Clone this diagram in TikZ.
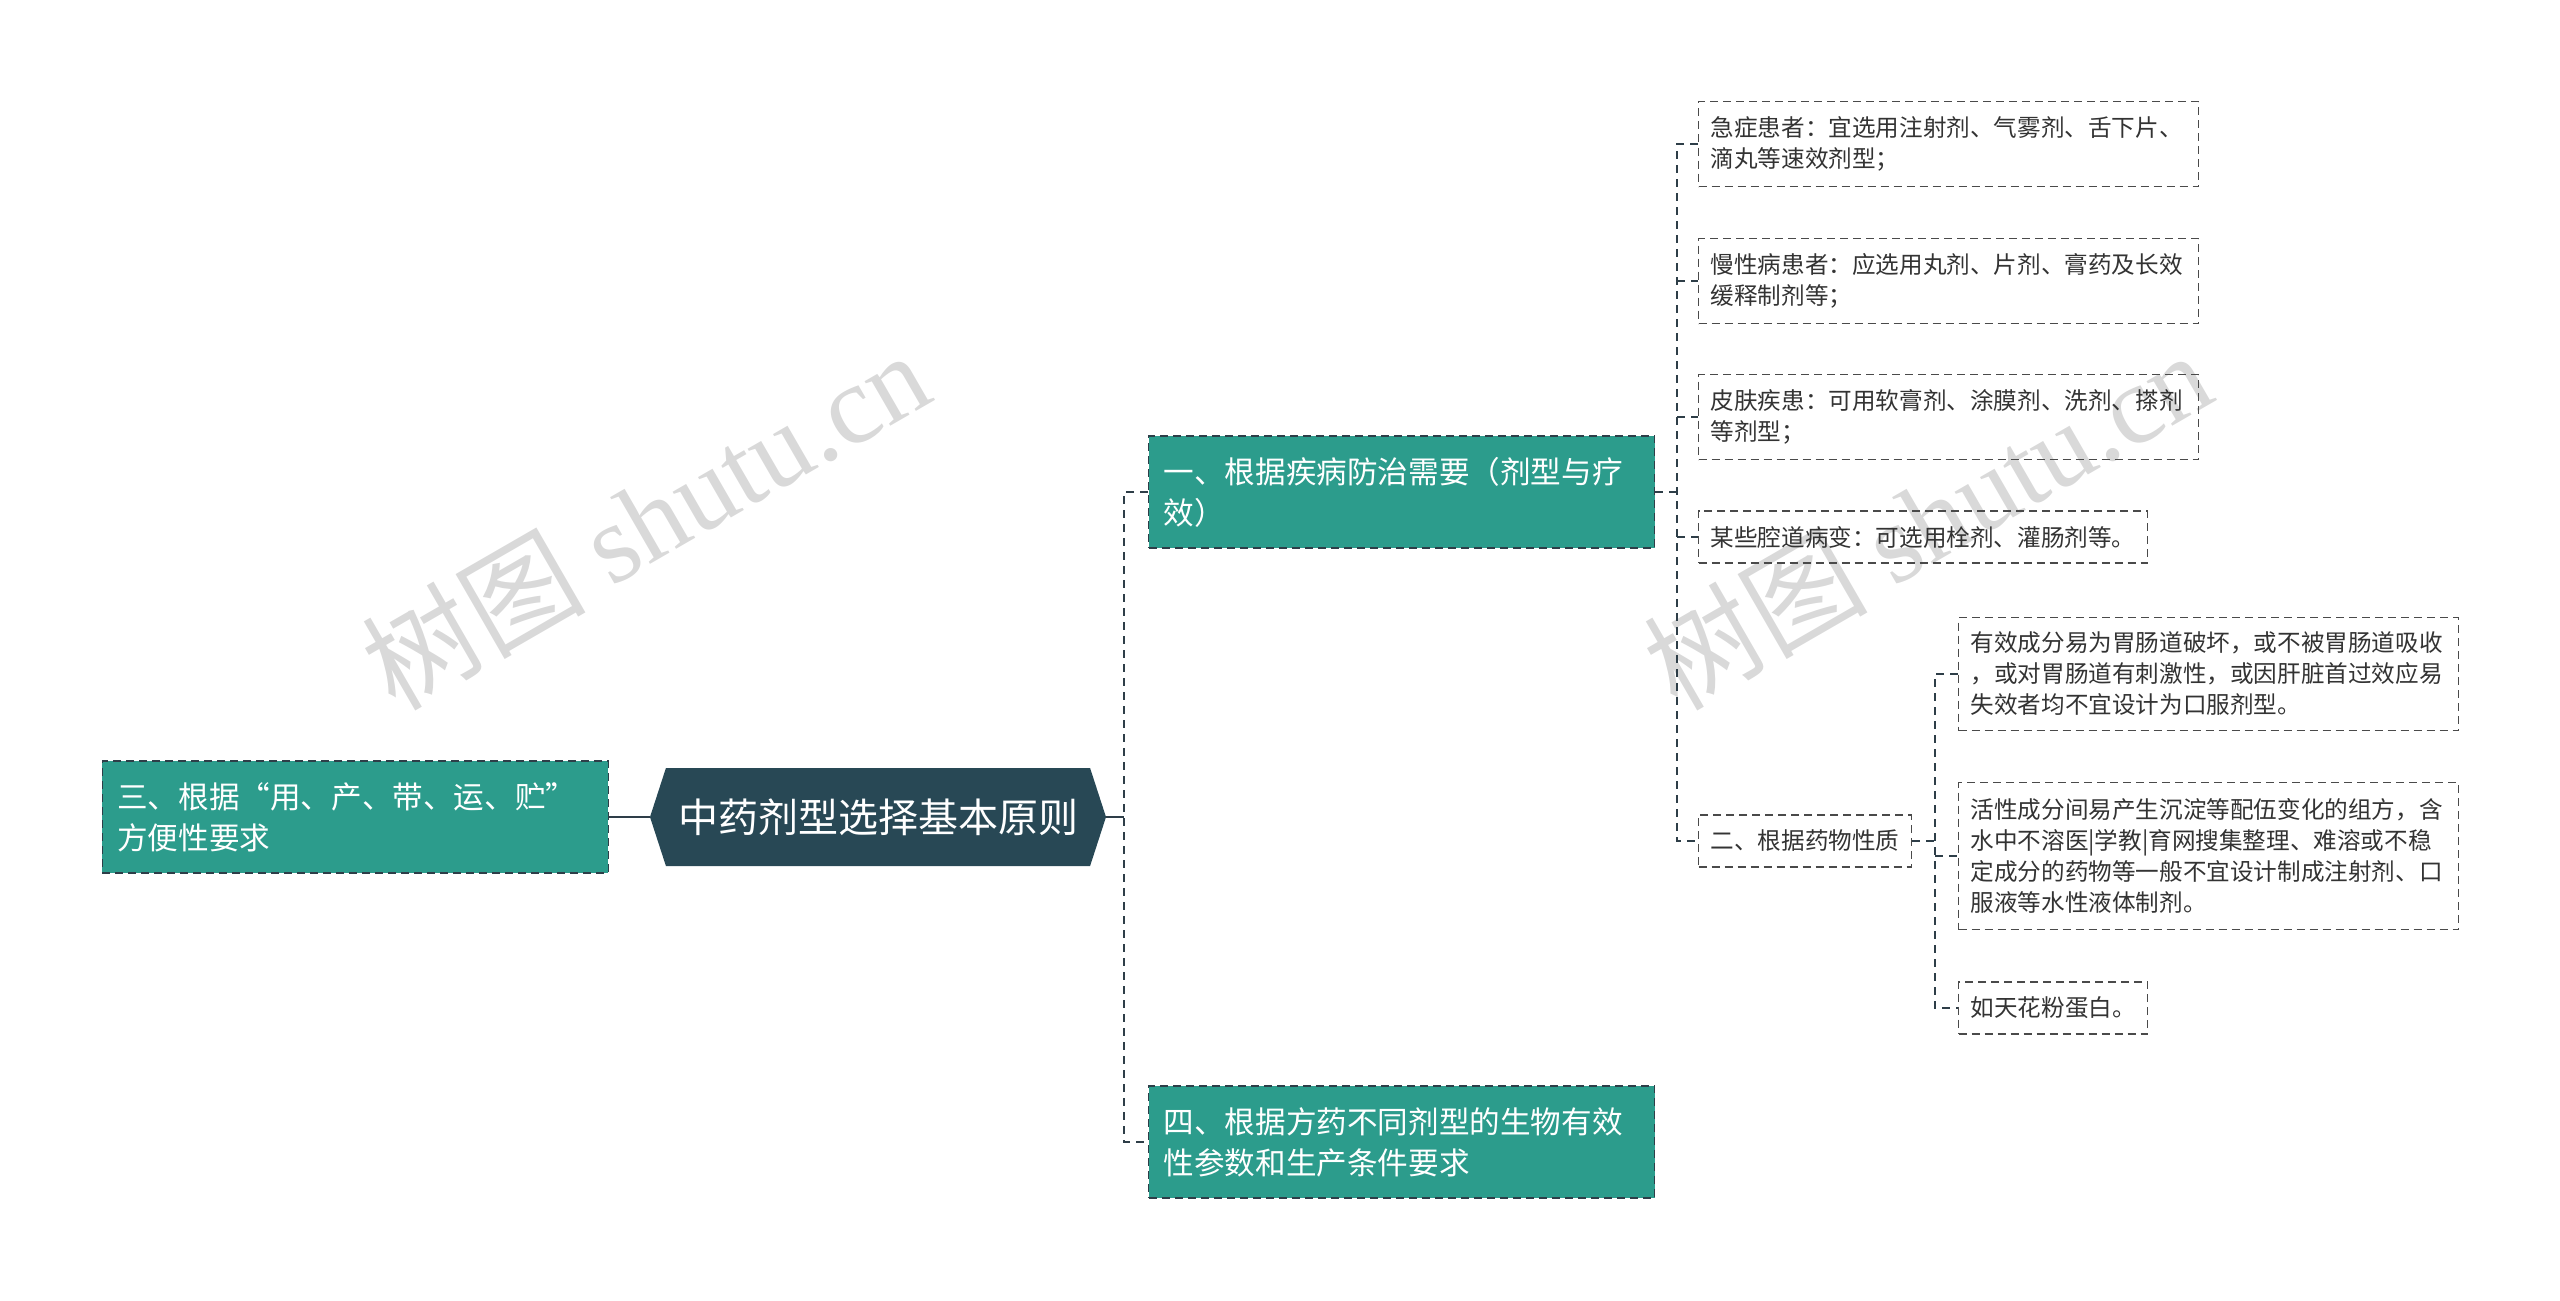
\documentclass[tikz,border=0pt]{standalone}
\usepackage{fontspec}
\setmainfont{Noto Sans CJK SC}
\newfontfamily\wmfont{Liberation Serif}
\usetikzlibrary{shapes.symbols}
\definecolor{rootfill}{HTML}{284855}
\definecolor{tealfill}{HTML}{2C9C8C}
\definecolor{linecol}{HTML}{2E3E48}
\definecolor{leafline}{HTML}{4A4A4A}
\definecolor{leaftext}{HTML}{333333}
\definecolor{wmgray}{HTML}{D9D9D9}

\begin{document}
\begin{tikzpicture}[x=0.5pt,y=-0.5pt]

    % `rootbox' is the hexagon in the middle.
    % `branch' is used for the teal nodes.
    % `leaf' is used for the dashed text boxes.
    \tikzstyle{rootbox} = [shape=signal,signal to=east and west,signal pointer angle=144,fill=rootfill,text=white,font=\fontsize{20}{24}\selectfont,minimum width=228pt,minimum height=49pt,inner sep=0pt]
    \tikzstyle{branch} = [draw=linecol,dash pattern=on 4pt off 2.5pt,line width=0.7pt,fill=tealfill,text=white,font=\fontsize{15.3}{20.4}\selectfont,align=left,text width=238pt,inner xsep=7.5pt,minimum height=56pt]
    \tikzstyle{leaf} = [draw=leafline,dash pattern=on 4pt off 2.5pt,line width=0.6pt,text=leaftext,font=\fontsize{11.8}{15.5}\selectfont,align=left,inner xsep=6pt,minimum height=26pt]
    \tikzstyle{longleaf} = [leaf,text width=238pt]
    \tikzstyle{link} = [draw=linecol,dash pattern=on 4pt off 3pt,line width=1pt]
    \tikzstyle{wmark} = [text=wmgray,rotate=30,font=\fontsize{56}{60}\selectfont]
    %
    \useasboundingbox (0,0) rectangle (2560,1301);

    % Watermarks.
    \node[wmark] (wm1) at (645,519) {树图 {\wmfont shutu.cn}};
    \node[wmark] (wm2) at (1927,519) {树图 {\wmfont shutu.cn}};

    % Centre and first level.
    \node[rootbox] (root) at (878,817) {中药剂型选择基本原则};
    \node[branch,anchor=east] (n3) at (609,817) {三、根据“用、产、带、运、贮”\\方便性要求};
    \node[branch,anchor=west] (n1) at (1148,492) {一、根据疾病防治需要（剂型与疗\\效）};
    \node[branch,anchor=west] (n4) at (1148,1142) {四、根据方药不同剂型的生物有效\\性参数和生产条件要求};

    % Leaves of the first branch.
    \node[longleaf,anchor=west,minimum height=42.5pt] (l1) at (1698,144) {急症患者：宜选用注射剂、气雾剂、舌下片、\\滴丸等速效剂型；};
    \node[longleaf,anchor=west,minimum height=42.5pt] (l2) at (1698,281) {慢性病患者：应选用丸剂、片剂、膏药及长效\\缓释制剂等；};
    \node[longleaf,anchor=west,minimum height=42.5pt] (l3) at (1698,417) {皮肤疾患：可用软膏剂、涂膜剂、洗剂、搽剂\\等剂型；};
    \node[leaf,anchor=west] (l4) at (1698,537) {某些腔道病变：可选用栓剂、灌肠剂等。};
    \node[leaf,anchor=west] (n2) at (1698,841) {二、根据药物性质};

    % Leaves of n2.
    \node[longleaf,anchor=west,minimum height=56.5pt] (la) at (1958,674) {有效成分易为胃肠道破坏，或不被胃肠道吸收\\，或对胃肠道有刺激性，或因肝脏首过效应易\\失效者均不宜设计为口服剂型。};
    \node[longleaf,anchor=west,minimum height=73.5pt] (lb) at (1958,856) {活性成分间易产生沉淀等配伍变化的组方，含\\水中不溶医|学教|育网搜集整理、难溶或不稳\\定成分的药物等一般不宜设计制成注射剂、口\\服液等水性液体制剂。};
    \node[leaf,anchor=west] (lc) at (1958,1008) {如天花粉蛋白。};

    % Joints of the dashed trees.
    \coordinate (j0) at (1124,817);
    \coordinate (j1) at (1677,492);
    \coordinate (j2) at (1935,841);

    % Draw lines.
    \draw[linecol,line width=1.3pt] (n3.east) -- (root.west);
    \draw[linecol,line width=1.3pt] (root.east) -- (j0);
    \draw[link] (n1.west) -| (j0) |- (n4.west);
    \draw[link] (l1.west) -| (j1) |- (n2.west);
    \draw[link] (n1.east) -- (j1);
    \draw[link] (j1 |- l2.west) -- (l2.west);
    \draw[link] (j1 |- l3.west) -- (l3.west);
    \draw[link] (j1 |- l4.west) -- (l4.west);
    \draw[link] (la.west) -| (j2) |- (lc.west);
    \draw[link] (n2.east) -- (j2);
    \draw[link] (j2 |- lb.west) -- (lb.west);
    %
\end{tikzpicture}
\end{document}
